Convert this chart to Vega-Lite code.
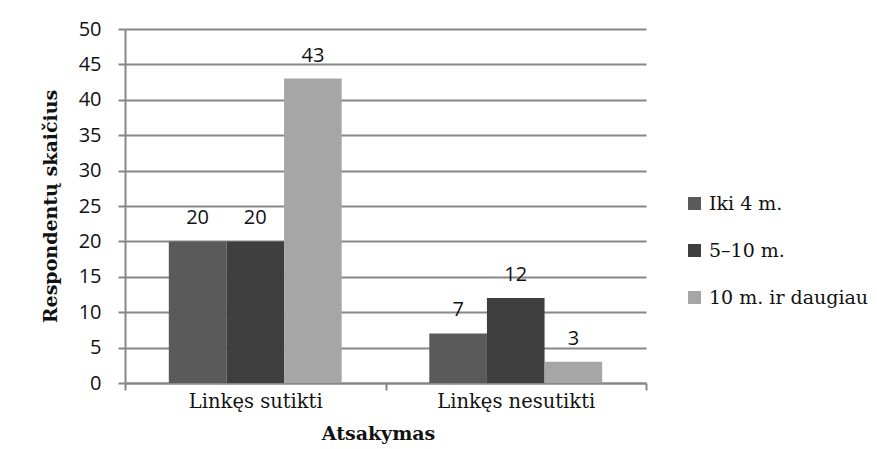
{
  "$schema": "https://vega.github.io/schema/vega-lite/v6.json",
  "width": 521,
  "height": 354,
  "autosize": {"type": "none"},
  "padding": {"left": 125, "top": 29, "right": 231, "bottom": 66},
  "background": "white",
  "config": {"view": {"stroke": null}},
  "data": {
    "values": [
      {"a": "Linkęs sutikti", "g": "Iki 4 m.", "v": 20},
      {"a": "Linkęs sutikti", "g": "5–10 m.", "v": 20},
      {"a": "Linkęs sutikti", "g": "10 m. ir daugiau", "v": 43},
      {"a": "Linkęs nesutikti", "g": "Iki 4 m.", "v": 7},
      {"a": "Linkęs nesutikti", "g": "5–10 m.", "v": 12},
      {"a": "Linkęs nesutikti", "g": "10 m. ir daugiau", "v": 3}
    ]
  },
  "encoding": {
    "x": {
      "field": "a",
      "type": "nominal",
      "sort": ["Linkęs sutikti", "Linkęs nesutikti"],
      "scale": {"paddingInner": 0, "paddingOuter": 0},
      "axis": {
        "title": "Atsakymas",
        "labelAngle": 0,
        "labelLimit": 400,
        "tickBand": "extent",
        "tickSize": 7,
        "tickColor": "#878787",
        "tickWidth": 2,
        "domainColor": "#878787",
        "domainWidth": 2,
        "labelFont": "DejaVu Serif",
        "labelFontSize": 19.5,
        "labelColor": "#111111",
        "labelPadding": 2,
        "titleFont": "DejaVu Serif",
        "titleFontSize": 19,
        "titleFontWeight": "bold",
        "titleColor": "#111111",
        "titlePadding": 14,
        "titleX": 253,
        "grid": false
      }
    },
    "xOffset": {
      "field": "g",
      "type": "nominal",
      "sort": ["Iki 4 m.", "5–10 m.", "10 m. ir daugiau"],
      "scale": {"paddingOuter": 0.76, "paddingInner": 0}
    },
    "y": {
      "field": "v",
      "type": "quantitative",
      "scale": {"domain": [0, 50]},
      "axis": {
        "title": "Respondentų skaičius",
        "values": [0, 5, 10, 15, 20, 25, 30, 35, 40, 45, 50],
        "grid": true,
        "gridColor": "#878787",
        "gridWidth": 2,
        "domainColor": "#878787",
        "domainWidth": 2,
        "tickColor": "#878787",
        "tickWidth": 2,
        "tickSize": 7,
        "labelFont": "Open Sans",
        "labelFontSize": 20,
        "labelColor": "#111111",
        "labelPadding": 17,
        "titleFont": "DejaVu Serif",
        "titleFontSize": 19,
        "titleFontWeight": "bold",
        "titleColor": "#111111",
        "titlePadding": 18
      }
    }
  },
  "layer": [
    {
      "mark": {"type": "bar"},
      "encoding": {
        "color": {
          "field": "g",
          "type": "nominal",
          "sort": ["Iki 4 m.", "5–10 m.", "10 m. ir daugiau"],
          "scale": {
            "domain": ["Iki 4 m.", "5–10 m.", "10 m. ir daugiau"],
            "range": ["#5a5a5a", "#3f3f3f", "#a6a6a6"]
          },
          "legend": {
            "title": null,
            "orient": "none",
            "legendX": 560,
            "legendY": 165,
            "symbolType": "square",
            "symbolSize": 169,
            "symbolStrokeWidth": 0,
            "labelFont": "DejaVu Serif",
            "labelFontSize": 19,
            "labelColor": "#111111",
            "labelOffset": 5,
            "rowPadding": 27
          }
        }
      }
    },
    {
      "mark": {"type": "text", "baseline": "alphabetic", "dy": -17, "font": "Open Sans", "fontSize": 20, "color": "#111111"},
      "encoding": {"text": {"field": "v", "type": "quantitative"}}
    }
  ]
}
